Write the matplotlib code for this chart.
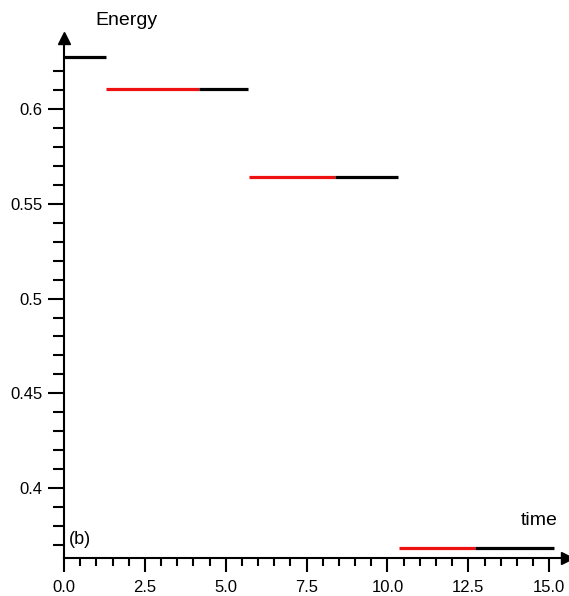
import numpy as np
import matplotlib.pyplot as plt

# energy levels and the times where each level starts / changes colour / ends
first_level = 0.6274
first_end = 1.30
levels = [0.6105, 0.5642, 0.3684]
red_start = [1.30, 5.72, 10.36]
red_end = [4.17, 8.38, 12.71]
black_end = [5.69, 10.33, 15.16]

xticks = [0.0, 2.5, 5.0, 7.5, 10.0, 12.5, 15.0]
xticklabels = ['0.0', '2.5', '5.0', '7.5', '10.0', '12.5', '15.0']
yticks = [0.4, 0.45, 0.5, 0.55, 0.6]
yticklabels = ['0.4', '0.45', '0.5', '0.55', '0.6']

plt.rcParams['font.family'] = ['Liberation Sans', 'DejaVu Sans']

fig = plt.figure(figsize=(5.69, 5.96), dpi=100)
ax = fig.add_axes([0.1125, 0.0638, 0.884, 0.8725])

lw = 2.3
ax.plot([0, first_end], [first_level, first_level], c='black', lw=lw, solid_capstyle='butt')
for y, a, b, c in zip(levels, red_start, red_end, black_end):
    ax.plot([a, b], [y, y], c='#ee1111', lw=lw, solid_capstyle='butt')
    ax.plot([b, c], [y, y], c='black', lw=lw, solid_capstyle='butt')

ax.set_xlim(0, 15.55)
ax.set_ylim(0.3632, 0.6374)

for s in ['top', 'right']:
    ax.spines[s].set_visible(False)
for s in ['left', 'bottom']:
    ax.spines[s].set_linewidth(1.5)

# arrow heads on the axes
ax.plot(1, 0, '>k', ms=9, transform=ax.transAxes, clip_on=False)
ax.plot(0, 1, '^k', ms=9, transform=ax.transAxes, clip_on=False)

ax.set_xticks(xticks)
ax.set_xticklabels(xticklabels)
ax.set_yticks(yticks)
ax.set_yticklabels(yticklabels)
ax.set_xticks(np.arange(0.5, 15.0, 0.5), minor=True)
ax.set_yticks(np.arange(0.37, 0.625, 0.01), minor=True)

ax.tick_params(axis='x', which='major', length=10, width=1.5, labelsize=12, pad=6)
ax.tick_params(axis='x', which='minor', length=6, width=1.5)
ax.tick_params(axis='y', which='major', length=11.5, width=1.5, labelsize=12, pad=4)
ax.tick_params(axis='y', which='minor', length=8, width=1.5)

fig.text(0.167, 0.965, 'Energy', fontsize=14, ha='left', va='center')
ax.text(0.982, 0.073, 'time', fontsize=14, ha='right', va='center', transform=ax.transAxes)
ax.text(0.01, 0.036, '(b)', fontsize=13, ha='left', va='center', transform=ax.transAxes)

plt.savefig('out.png', dpi=100)
